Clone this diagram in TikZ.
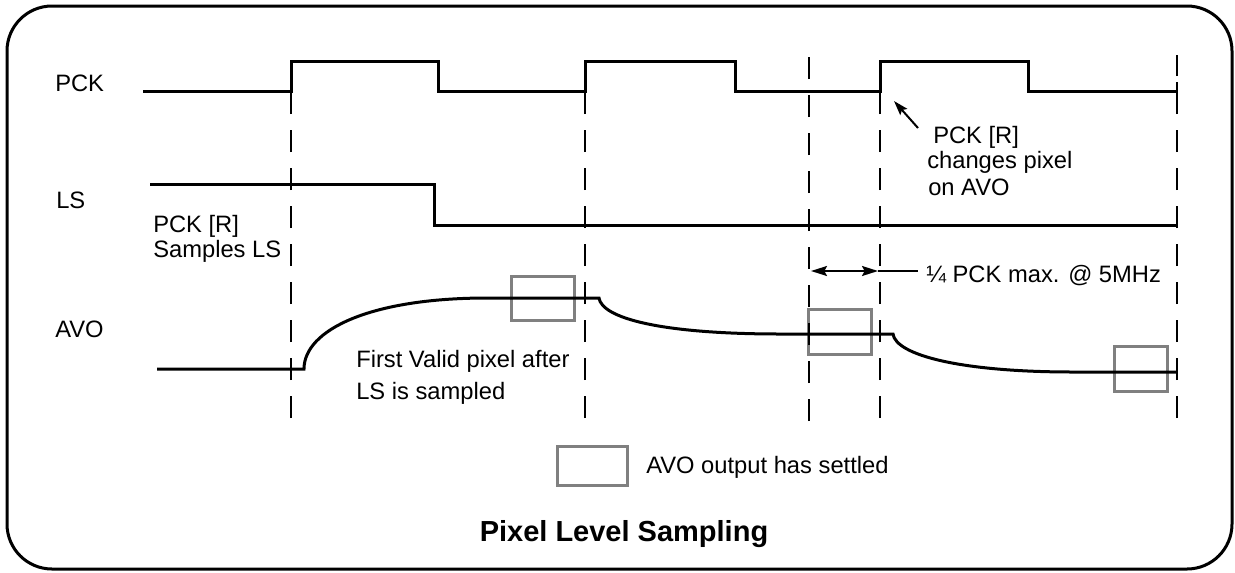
\documentclass[tikz,border=0pt]{standalone}
\usepackage{fontspec}
\setmainfont{Liberation Sans}
\usetikzlibrary{arrows.meta}
\definecolor{settlegray}{RGB}{128,128,128}
\begin{document}
\begin{tikzpicture}[x=0.75pt,y=-0.75pt,
  sig/.style={line width=2.25pt, line join=miter},
  guide/.style={line width=1.5pt, dash pattern=on 16.5pt off 12pt},
  settle/.style={draw=settlegray, line width=2.25pt},
  lbl/.style={anchor=base west, inner sep=0pt, font=\fontsize{17.8}{22}\selectfont},
  ttl/.style={anchor=base, inner sep=0pt, font=\fontsize{21.75}{26}\selectfont\bfseries},
  frame/.style={line width=2.25pt, rounded corners=33.75pt},
  pointer/.style={line width=1.5pt}
]
\useasboundingbox (0,0) rectangle (1235,572);
\draw[frame] (7,6) rectangle (1232,569);

% settle boxes
\draw[settle] (511,276) rectangle (574,320);
\draw[settle] (808,309) rectangle (871,354);
\draw[settle] (1114,346) rectangle (1167,391);
\draw[settle] (557,446) rectangle (627,485);

% dashed guides
\draw[guide] (291,418) -- (291,91);
\draw[guide] (585,418) -- (585,91);
\draw[guide] (809,421) -- (809,55);
\draw[guide] (880,418) -- (880,91);
\draw[guide] (1177,418) -- (1177,55);

% PCK
\draw[sig] (143,91) -- (291,91) -- (291,61) -- (438,61) -- (438,91) -- (585,91)
  -- (585,61) -- (735,61) -- (735,91) -- (880,91) -- (880,61) -- (1028,61)
  -- (1028,91) -- (1177,91);
\draw[line width=1.5pt] (1177,82) -- (1177,100);
% LS
\draw[sig] (150,184) -- (434,184) -- (434,225) -- (1177,225);
% AVO
\draw[sig] (157,369) -- (304,369)
  .. controls (304,330) and (370,298) .. (487,298) -- (599,298)
  .. controls (602,318) and (660,334) .. (780,334) -- (893,334)
  .. controls (896,355) and (960,372) .. (1073,372) -- (1177,372);

% labels
\node[lbl] (pck) at (55,91) {PCK};
\node[lbl] (ls) at (56,208) {LS};
\node[lbl] (avo) at (55,337) {AVO};
\node[lbl] (samp1) at (153,232) {PCK [R]};
\node[lbl] (samp2) at (153,257) {Samples LS};
\node[lbl] (first1) at (356,367) {First Valid pixel after};
\node[lbl] (first2) at (356,399) {LS is sampled};
\node[lbl] (chg1) at (933,143) {PCK [R]};
\node[lbl] (chg2) at (927,168) {changes pixel};
\node[lbl] (chg3) at (928,195) {on AVO};
\node[lbl] (quarter) at (926,282) {¼ PCK max. @ 5MHz};
\node[lbl] (legend) at (646,473) {AVO output has settled};
\node[ttl] (title) at (624,541) {Pixel Level Sampling};

% connectors
\coordinate (m1) at (811,271);
\coordinate (m2) at (878,271);
\coordinate (q0) at (918,271);
\draw[pointer, {Stealth[length=12pt,width=7.5pt,inset=2pt]}-{Stealth[length=12pt,width=7.5pt,inset=2pt]}] (m1) -- (m2);
\draw[pointer] (m2) -- (q0);
\coordinate (rtail) at (918,128);
\coordinate (rtip) at (894,101);
\draw[pointer, -{Stealth[length=11pt,width=7pt,inset=2pt]}] (rtail) -- (rtip);
\end{tikzpicture}
\end{document}
